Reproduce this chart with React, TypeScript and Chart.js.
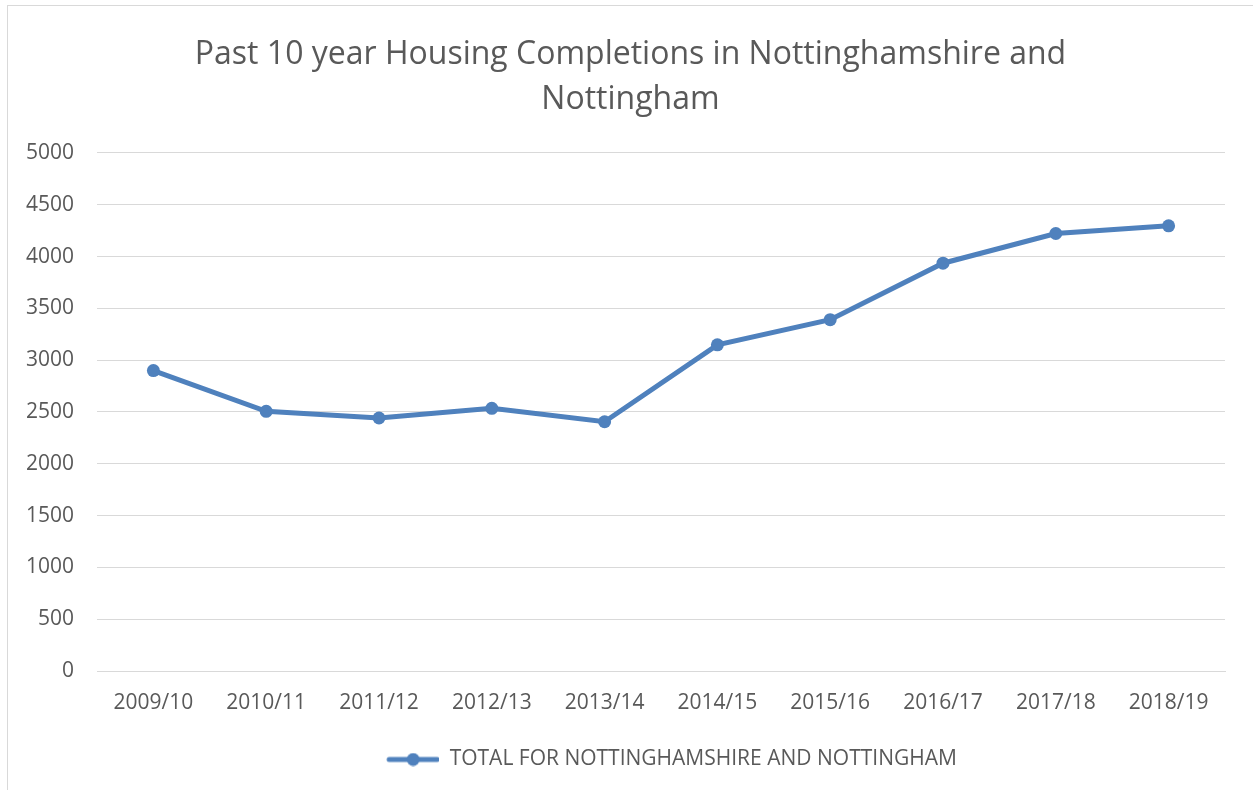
import React, { useEffect, useRef } from "react";
import { Chart, registerables } from "chart.js";

Chart.register(...registerables);

const categories = ["2009/10", "2010/11", "2011/12", "2012/13", "2013/14", "2014/15", "2015/16", "2016/17", "2017/18", "2018/19"];
const totals = [2900, 2506, 2442, 2535, 2406, 3148, 3391, 3936, 4223, 4297];
const seriesLabel = "TOTAL FOR NOTTINGHAMSHIRE AND NOTTINGHAM";
const titleLines = ["Past 10 year Housing Completions in Nottinghamshire and", "Nottingham"];
const yMin = 0;
const yMax = 5000;
const yStep = 500;

const BLUE = "#4F81BD";
const TEXT = "#595959";
const GRID = "#D9D9D9";
const FONT = "'Open Sans', sans-serif";

function makeLegendMarker(): HTMLCanvasElement {
  const c = document.createElement("canvas");
  c.width = 74;
  c.height = 14;
  const ctx = c.getContext("2d")!;
  ctx.strokeStyle = BLUE;
  ctx.lineWidth = 5;
  ctx.lineCap = "round";
  ctx.beginPath();
  ctx.moveTo(24, 7);
  ctx.lineTo(72, 7);
  ctx.stroke();
  ctx.fillStyle = BLUE;
  ctx.beginPath();
  ctx.arc(48, 7, 6.5, 0, Math.PI * 2);
  ctx.fill();
  return c;
}

export default function App() {
  const ref = useRef<HTMLCanvasElement | null>(null);

  useEffect(() => {
    if (!ref.current) return;
    const marker = makeLegendMarker();
    const chart = new Chart(ref.current, {
      type: "line",
      data: {
        labels: categories,
        datasets: [
          {
            label: seriesLabel,
            data: totals,
            borderColor: BLUE,
            backgroundColor: BLUE,
            borderWidth: 5,
            pointRadius: 6.5,
            pointBackgroundColor: BLUE,
            pointBorderWidth: 0,
            tension: 0,
          },
        ],
      },
      options: {
        animation: false,
        responsive: false,
        maintainAspectRatio: false,
        layout: { padding: { left: 0, right: 0, top: 0, bottom: 10 } },
        plugins: {
          title: {
            display: true,
            text: titleLines,
            color: TEXT,
            font: { family: FONT, size: 32, weight: "normal", lineHeight: 1.406 },
            padding: { top: 26, bottom: 31 },
          },
          legend: {
            display: true,
            position: "bottom",
            fullSize: false,
            labels: {
              color: TEXT,
              font: { family: FONT, size: 21 },
              usePointStyle: true,
              pointStyle: marker as any,
              pointStyleWidth: 74,
              padding: 10,
            },
          },
          tooltip: { enabled: false },
        },
        scales: {
          x: {
            type: "category",
            offset: true,
            grid: { display: false },
            border: { display: true, color: GRID, width: 1 },
            ticks: { color: TEXT, font: { family: FONT, size: 21 }, padding: 11, maxRotation: 0 },
            afterFit: (s: any) => {
              s.height = 68;
            },
          },
          y: {
            type: "linear",
            min: yMin,
            max: yMax,
            grid: { color: GRID, lineWidth: 1, drawTicks: false },
            border: { display: false },
            ticks: {
              stepSize: yStep,
              color: TEXT,
              font: { family: FONT, size: 21 },
              padding: 23,
              callback: (v: any) => String(v),
            },
            afterFit: (s: any) => {
              s.width = 89;
            },
          },
          pad: {
            type: "linear",
            position: "right",
            display: true,
            grid: { display: false },
            border: { display: false },
            ticks: { display: false },
            afterFit: (s: any) => {
              s.width = 28;
            },
          },
        },
      },
    });
    return () => chart.destroy();
  }, []);

  return (
    <div style={{ position: "fixed", left: 0, top: 0, width: 1253, height: 790, overflow: "hidden", background: "#fff" }}>
      <div
        style={{
          position: "absolute",
          left: 7,
          top: 5,
          width: 1400,
          height: 1000,
          border: `1px solid ${GRID}`,
          boxSizing: "border-box",
        }}
      />
      <canvas ref={ref} width={1245} height={784} style={{ position: "absolute", left: 8, top: 6, width: 1245, height: 784 }} />
    </div>
  );
}
